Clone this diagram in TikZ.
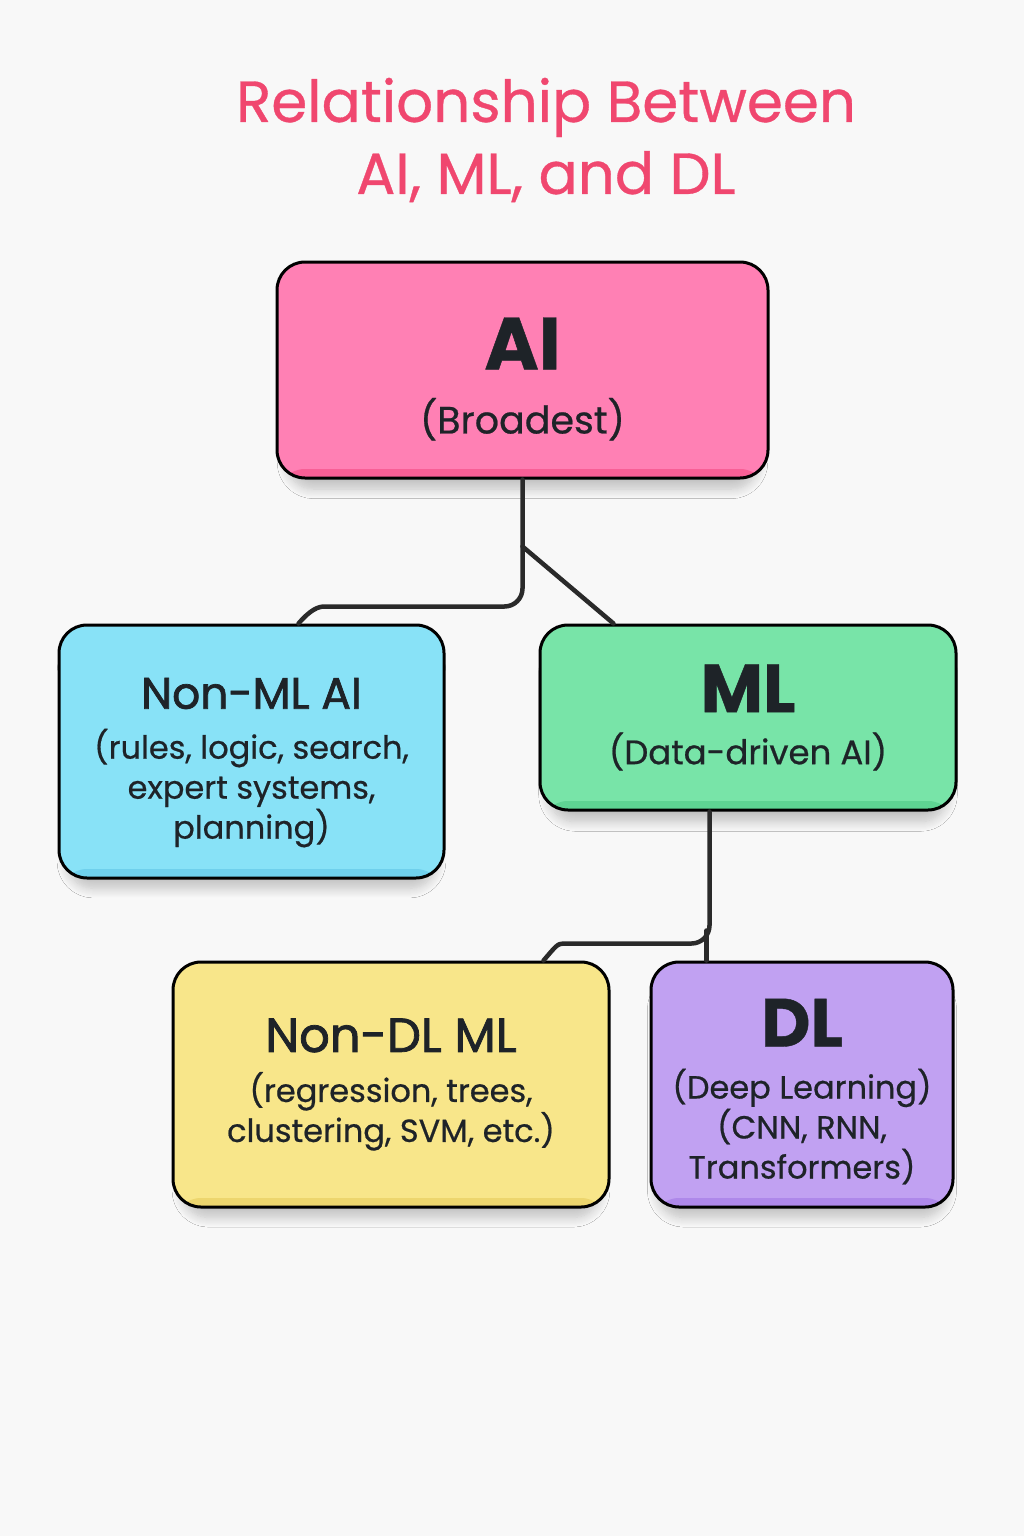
\documentclass[tikz,border=0pt]{standalone}
\usepackage{fontspec}
\setmainfont{Poppins}
\newfontfamily\medfont[FakeBold=0.6]{Poppins}
\newfontfamily\headfont[FakeBold=1.6]{Poppins}
\usetikzlibrary{shadows.blur}

\definecolor{bgcol}{HTML}{F8F8F8}
\definecolor{titlepink}{HTML}{F0476F}
\definecolor{inkcol}{HTML}{1E2328}
\definecolor{linkcol}{HTML}{2A2A2A}
\definecolor{aipink}{HTML}{FF80B4}
\definecolor{aipinkdark}{HTML}{F85F96}
\definecolor{nonmlblue}{HTML}{88E2F7}
\definecolor{nonmlbluedark}{HTML}{6FD0EC}
\definecolor{mlgreen}{HTML}{78E4A8}
\definecolor{mlgreendark}{HTML}{5ED493}
\definecolor{nondlyellow}{HTML}{F8E68A}
\definecolor{nondlyellowdark}{HTML}{EDD66E}
\definecolor{dlpurple}{HTML}{C1A1F2}
\definecolor{dlpurpledark}{HTML}{AE88EA}

\begin{document}
\begin{tikzpicture}[x=1pt,y=-1pt,
  box/.style={draw=black,line width=3pt,rounded corners=28pt,align=center,
    text=inkcol,font=\medfont\fontsize{32}{40}\selectfont,
    blur shadow={shadow xshift=0pt,shadow yshift=-16pt,shadow scale=0.96,shadow blur radius=10pt,
      shadow blur steps=10,shadow opacity=22}},
  band/.style={path picture={\fill[#1] ([yshift=9pt]path picture bounding box.south west)
    rectangle (path picture bounding box.south east);}},
  link/.style={draw=linkcol,line width=4.5pt,line cap=round,rounded corners=18pt}
  ]

    \fill[bgcol] (0,0) rectangle (1024,1536);

    \node[text=titlepink,align=center,font=\medfont\fontsize{58}{72}\selectfont] (title) at (546,140)
        {Relationship Between\\AI, ML, and DL};

    \node[box,fill=aipink,band=aipinkdark,minimum width=491pt,minimum height=216pt] (ai) at (522.5,370)
        {\rule{0pt}{70pt}{\fontsize{74}{80}\selectfont\bfseries AI}\\[24pt]{\fontsize{38}{46}\selectfont (Broadest)}};
    \node[box,fill=nonmlblue,band=nonmlbluedark,minimum width=385pt,minimum height=253pt] (nonml) at (251.5,751.5)
        {\rule{0pt}{53pt}{\headfont\fontsize{44}{50}\selectfont Non-ML AI}\\[10pt](rules, logic, search,\\expert systems,\\planning)};
    \node[box,fill=mlgreen,band=mlgreendark,minimum width=416pt,minimum height=185pt] (ml) at (748,717.5)
        {{\fontsize{68}{74}\selectfont\bfseries ML}\\[12pt]{\fontsize{34}{40}\selectfont (Data-driven AI)}};
    \node[box,fill=nondlyellow,band=nondlyellowdark,minimum width=436pt,minimum height=245pt] (nondl) at (391,1084.5)
        {{\headfont\fontsize{48}{54}\selectfont Non-DL ML}\\[10pt](regression, trees,\\clustering, SVM, etc.)};
    \node[box,fill=dlpurple,band=dlpurpledark,minimum width=302pt,minimum height=245pt] (dl) at (802,1084.5)
        {\rule{0pt}{62pt}{\fontsize{68}{74}\selectfont\bfseries DL}\\[12pt](Deep Learning)\\(CNN, RNN,\\Transformers)};

    % connectors
    \coordinate (aisplit) at ([yshift=-67pt]ai.south);
    \coordinate (nmbend) at ([xshift=-180pt,yshift=-127pt]ai.south);
    \coordinate (ndbend) at ([xshift=43pt,yshift=-132pt]ml.south west);
    \draw[link] (ai.south) |- (nmbend)
        .. controls +(-24,0) and +(12,-14) .. ([xshift=241pt]nonml.north west);
    \draw[link] (aisplit) -- ([xshift=75pt]ml.north west);
    \draw[link] ([xshift=171pt]ml.south west) |- (ndbend)
        .. controls +(-24,0) and +(12,-14) .. ([xshift=372pt]nondl.north west);
    \draw[link] ([xshift=57pt]dl.north west) -- ++(0,-30);
\end{tikzpicture}
\end{document}
